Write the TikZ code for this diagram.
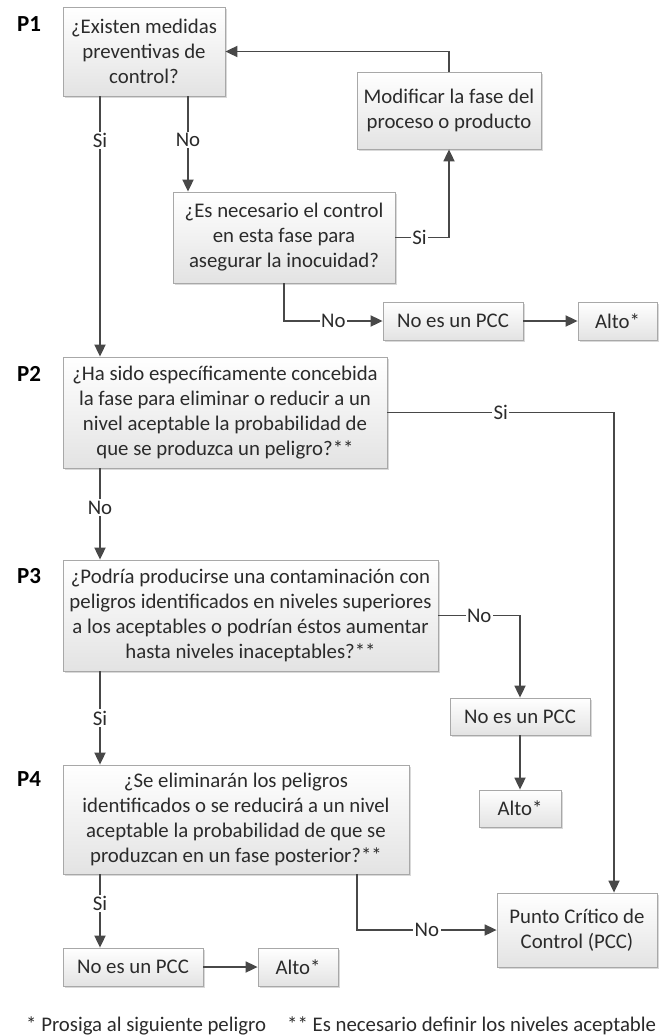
\documentclass[tikz,border=0pt]{standalone}
\usepackage{fontspec}
\setmainfont{Carlito}
\usetikzlibrary{shadows,arrows.meta}
\definecolor{txt}{HTML}{2B2B2B}
\definecolor{lnc}{HTML}{484848}
\definecolor{bd}{HTML}{A8A8A8}
\begin{document}
\begin{tikzpicture}[x=1pt,y=-1pt, font=\fontsize{20.8}{25}\selectfont,
 box/.style={draw=bd, line width=0.8pt, top color=white, bottom color=gray!22,
   drop shadow={shadow xshift=2pt,shadow yshift=-2pt,opacity=0.3,fill=gray},
   text=txt, align=center, inner sep=0pt},
 arr/.style={draw=lnc, line width=1.8pt, -{Triangle[width=11pt,length=12pt]}},
 lbl/.style={fill=white, inner sep=1.5pt, text=txt},
 plab/.style={font=\fontsize{23}{25}\selectfont\bfseries, text=black, inner sep=0pt}]
\useasboundingbox (0,0) rectangle (659,1036);

% column coordinates
\coordinate (colA) at (100,0);
\coordinate (colB) at (188,0);
\coordinate (colF) at (614,0);
\coordinate (colG) at (357,0);

% P labels
\node[plab] (lp1) at (29,24) {P1};
\node[plab] (lp2) at (29,374) {P2};
\node[plab] (lp3) at (29,576) {P3};
\node[plab] (lp4) at (29,779) {P4};

% boxes
\node[box, minimum width=162pt, minimum height=89pt] (p1) at (144,51.5) {¿Existen medidas\\preventivas de\\control?};
\node[box, minimum width=184pt, minimum height=77pt] (mod) at (449,110.5) {Modificar la fase del\\proceso o producto};
\node[box, minimum width=222pt, minimum height=91pt] (q2) at (284,237.5) {¿Es necesario el control\\en esta fase para\\asegurar la inocuidad?};
\node[box, minimum width=140pt, minimum height=38pt] (npcc1) at (453,321) {No es un PCC};
\node[box, minimum width=79pt, minimum height=38pt] (alto1) at (617.5,321) {Alto*};
\node[box, minimum width=324pt, minimum height=111pt] (p2) at (225,412.5) {¿Ha sido específicamente concebida\\la fase para eliminar o reducir a un\\nivel aceptable la probabilidad de\\que se produzca un peligro?**};
\node[box, minimum width=375pt, minimum height=111pt] (p3) at (250.5,615.5) {¿Podría producirse una contaminación con\\peligros identificados en niveles superiores\\a los aceptables o podrían éstos aumentar\\hasta niveles inaceptables?**};
\node[box, minimum width=140pt, minimum height=37pt] (npcc2) at (520,716.5) {No es un PCC};
\node[box, minimum width=82pt, minimum height=37pt] (alto2) at (520,808.5) {Alto*};
\node[box, minimum width=346pt, minimum height=109pt] (p4) at (236,819.5) {¿Se eliminarán los peligros\\identificados o se reducirá a un nivel\\aceptable la probabilidad de que se\\produzcan en un fase posterior?**};
\node[box, minimum width=140pt, minimum height=38pt] (npcc3) at (133,967) {No es un PCC};
\node[box, minimum width=80pt, minimum height=38pt] (alto3) at (298,967) {Alto*};
\node[box, minimum width=160pt, minimum height=74pt] (pcc) at (577,930) {Punto Crítico de\\Control (PCC)};

% connectors
\draw[arr] (p1.south -| colA) -- node[lbl, pos=0.17] {Si} (p2.north -| colA);
\draw[arr] (p1.south -| colB) -- node[lbl, pos=0.46] {No} (q2.north -| colB);
\draw[arr] (mod.north) |- (p1.east);
\draw[arr] (q2.east) -- node[lbl, pos=0.45] {Si} (q2.east -| mod.south) -- (mod.south);
\draw[arr] (q2.south) |- node[lbl, pos=0.75] {No} (npcc1.west);
\draw[arr] (npcc1.east) -- (alto1.west);
\draw[arr] (p2.east) -| node[lbl, pos=0.25] {Si} (pcc.north -| colF);
\draw[arr] (p2.south -| colA) -- node[lbl, pos=0.43] {No} (p3.north -| colA);
\draw[arr] (p3.east) -| node[lbl, pos=0.25] {No} (npcc2.north);
\draw[arr] (npcc2.south) -- (alto2.north);
\draw[arr] (p3.south -| colA) -- node[lbl, pos=0.5] {Si} (p4.north -| colA);
\draw[arr] (p4.south -| colA) -- node[lbl, pos=0.4] {Si} (npcc3.north -| colA);
\draw[arr] (npcc3.east) -- (alto3.west);
\draw[arr] (p4.south -| colG) |- node[lbl, pos=0.75] {No} (pcc.west);

% footnotes
\node[anchor=west, inner sep=0pt, text=txt] (fn1) at (26,1026) {* Prosiga al siguiente peligro};
\node[anchor=west, inner sep=0pt, text=txt] (fn2) at (287,1026) {** Es necesario definir los niveles aceptable};
\end{tikzpicture}
\end{document}
